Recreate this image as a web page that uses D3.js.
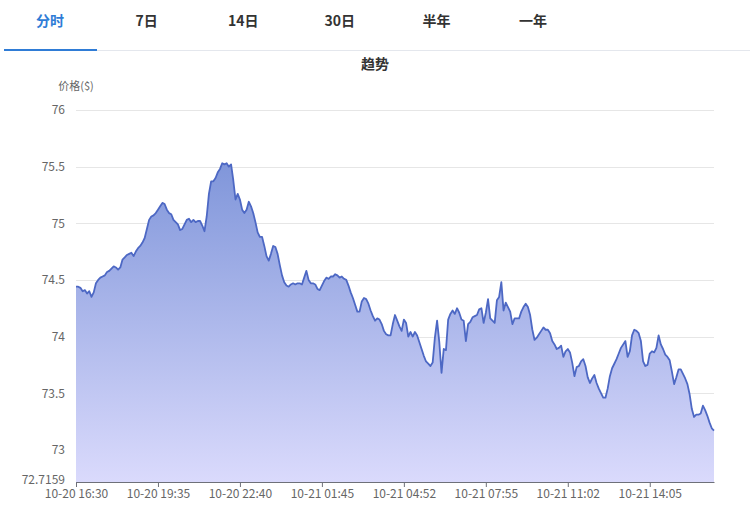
<!DOCTYPE html>
<html>
<head>
<meta charset="utf-8">
<script src="https://cdn.jsdelivr.net/npm/d3@7/dist/d3.min.js"></script>
<style>
  html, body { margin: 0; padding: 0; background: #fff; }
  svg { display: block; font-family: "Noto Sans CJK SC", "Noto Sans", sans-serif; }
</style>
</head>
<body>
<svg id="chart" width="750" height="505"></svg>
<script>
const tabs = ["分时", "7日", "14日", "30日", "半年", "一年"];
const chartTitle = "趋势";
const yAxisName = "价格($)";
const yMin = 72.7159;
const yMax = 76;
const yTicks = [72.7159, 73, 73.5, 74, 74.5, 75, 75.5, 76];
const xTickLabels = ["10-20 16:30", "10-20 19:35", "10-20 22:40", "10-21 01:45",
                     "10-21 04:52", "10-21 07:55", "10-21 11:02", "10-21 14:05"];
const xTickStep = 37;
const prices = [
  74.44, 74.44, 74.43, 74.40, 74.41, 74.38, 74.40, 74.35, 74.39, 74.47,
  74.50, 74.52, 74.53, 74.54, 74.57, 74.58, 74.60, 74.62, 74.61, 74.59,
  74.61, 74.68, 74.70, 74.72, 74.73, 74.74, 74.71, 74.75, 74.78, 74.80,
  74.83, 74.87, 74.95, 75.03, 75.06, 75.07, 75.09, 75.12, 75.15, 75.18,
  75.17, 75.12, 75.09, 75.08, 75.03, 75.01, 74.99, 74.94, 74.95, 74.99,
  75.03, 75.04, 75.01, 75.03, 75.01, 75.02, 75.02, 74.98, 74.93, 75.06,
  75.26, 75.37, 75.37, 75.40, 75.45, 75.48, 75.53, 75.52, 75.53, 75.50,
  75.52, 75.38, 75.21, 75.26, 75.21, 75.12, 75.09, 75.12, 75.19, 75.15,
  75.09, 75.01, 74.92, 74.88, 74.88, 74.80, 74.71, 74.67, 74.73, 74.80,
  74.79, 74.73, 74.63, 74.54, 74.48, 74.45, 74.44, 74.46, 74.47, 74.46,
  74.47, 74.47, 74.46, 74.52, 74.58, 74.50, 74.47, 74.47, 74.46, 74.42,
  74.41, 74.45, 74.49, 74.52, 74.51, 74.53, 74.53, 74.55, 74.54, 74.52,
  74.53, 74.51, 74.50, 74.45, 74.39, 74.34, 74.28, 74.22, 74.22, 74.31,
  74.34, 74.33, 74.29, 74.23, 74.18, 74.14, 74.16, 74.15, 74.11, 74.05,
  74.02, 74.01, 74.01, 74.11, 74.19, 74.14, 74.09, 74.05, 74.15, 74.12,
  74.00, 74.04, 74.00, 74.04, 74.01, 73.95, 73.89, 73.83, 73.78, 73.76,
  73.74, 73.77, 73.99, 74.14, 73.95, 73.68, 73.89, 73.88, 74.15, 74.20,
  74.23, 74.20, 74.25, 74.21, 74.15, 74.14, 73.96, 74.11, 74.13, 74.17,
  74.18, 74.19, 74.24, 74.25, 74.12, 74.21, 74.33, 74.16, 74.14, 74.12,
  74.32, 74.35, 74.48, 74.23, 74.30, 74.26, 74.22, 74.11, 74.16, 74.16,
  74.16, 74.22, 74.26, 74.29, 74.26, 74.19, 74.06, 73.97, 73.99, 74.02,
  74.05, 74.08, 74.06, 74.06, 74.03, 73.96, 73.93, 73.89, 73.90, 73.92,
  73.82, 73.87, 73.89, 73.86, 73.77, 73.65, 73.73, 73.74, 73.78, 73.80,
  73.74, 73.64, 73.59, 73.63, 73.66, 73.59, 73.54, 73.50, 73.46, 73.46,
  73.54, 73.65, 73.72, 73.76, 73.80, 73.85, 73.90, 73.93, 73.96, 73.82,
  73.87, 74.01, 74.06, 74.05, 74.03, 73.96, 73.78, 73.74, 73.75, 73.85,
  73.87, 73.86, 73.90, 74.01, 73.93, 73.89, 73.84, 73.82, 73.79, 73.69,
  73.58, 73.64, 73.71, 73.71, 73.67, 73.63, 73.58, 73.49, 73.36, 73.29,
  73.31, 73.31, 73.32, 73.39, 73.35, 73.30, 73.24, 73.19, 73.17
];

const svg = d3.select("#chart");
const W = 750;
const plot = { left: 76, right: 714, top: 110, bottom: 482 };

// ---- tabs ----
const tabX = d3.scalePoint().domain(tabs).range([50, 533]);
svg.append("g").selectAll("text").data(tabs).join("text")
  .attr("x", d => tabX(d)).attr("y", 26)
  .attr("text-anchor", "middle")
  .attr("font-size", 14).attr("font-weight", "bold")
  .attr("fill", (d, i) => i === 0 ? "#2f7cd6" : "#333")
  .text(d => d);
svg.append("line").attr("x1", 4).attr("x2", W).attr("y1", 50.5).attr("y2", 50.5)
  .attr("stroke", "#e4e7ed").attr("stroke-width", 1);
svg.append("line").attr("x1", 4).attr("x2", 97).attr("y1", 50).attr("y2", 50)
  .attr("stroke", "#2f7cd6").attr("stroke-width", 2);

// ---- title ----
svg.append("text").attr("x", 375).attr("y", 69).attr("text-anchor", "middle")
  .attr("font-size", 14).attr("font-weight", "bold").attr("fill", "#333")
  .text(chartTitle);

// ---- scales ----
const x = d3.scalePoint().domain(d3.range(prices.length)).range([plot.left, plot.right]);
const y = d3.scaleLinear().domain([yMin, yMax]).range([plot.bottom, plot.top]);

// ---- grid ----
svg.append("g").selectAll("line").data(yTicks.filter(t => t > yMin)).join("line")
  .attr("x1", plot.left).attr("x2", plot.right)
  .attr("y1", d => Math.round(y(d)) + 0.5).attr("y2", d => Math.round(y(d)) + 0.5)
  .attr("stroke", "#e6e6e6").attr("stroke-width", 1);

// ---- area + line ----
const defs = svg.append("defs");
const grad = defs.append("linearGradient").attr("id", "areaGrad")
  .attr("x1", 0).attr("y1", 0).attr("x2", 0).attr("y2", 1);
grad.append("stop").attr("offset", "0%").attr("stop-color", "rgb(128,150,218)");
grad.append("stop").attr("offset", "100%").attr("stop-color", "rgb(218,218,252)");

const area = d3.area().x((d, i) => x(i)).y0(plot.bottom).y1(d => y(d));
const line = d3.line().x((d, i) => x(i)).y(d => y(d));
svg.append("path").datum(prices).attr("d", area).attr("fill", "url(#areaGrad)");
svg.append("path").datum(prices).attr("d", line).attr("fill", "none")
  .attr("stroke", "#4d68c4").attr("stroke-width", 1.8).attr("stroke-linejoin", "round");

// ---- x axis ----
const tickIdx = xTickLabels.map((l, i) => i * xTickStep);
const xAxis = d3.axisBottom(x).tickValues(tickIdx)
  .tickFormat((d) => xTickLabels[d / xTickStep]).tickSize(5).tickSizeOuter(0);
const gx = svg.append("g").attr("transform", `translate(0,${plot.bottom})`).call(xAxis);
gx.select(".domain").attr("stroke", "#6e7079");
gx.selectAll(".tick line").attr("stroke", "#6e7079");
gx.selectAll(".tick text").attr("fill", "#666").attr("font-size", 12)
  .attr("font-family", "'Noto Sans CJK SC', 'Noto Sans', sans-serif").attr("dy", "0.7em");

// ---- y axis ----
const yAxis = d3.axisLeft(y).tickValues(yTicks).tickSize(0)
  .tickFormat(d => d === yMin ? String(yMin) : d3.format("")(d));
const gy = svg.append("g").attr("transform", `translate(${plot.left - 8},0)`).call(yAxis);
gy.select(".domain").remove();
gy.selectAll(".tick text").attr("fill", "#666").attr("font-size", 12)
  .attr("font-family", "'Noto Sans CJK SC', 'Noto Sans', sans-serif")
  .attr("dy", d => d === yMin ? "0.15em" : "0.32em");

svg.append("text").attr("x", plot.left).attr("y", 90).attr("text-anchor", "middle")
  .attr("font-size", 11).attr("fill", "#666").text(yAxisName);
</script>
</body>
</html>
